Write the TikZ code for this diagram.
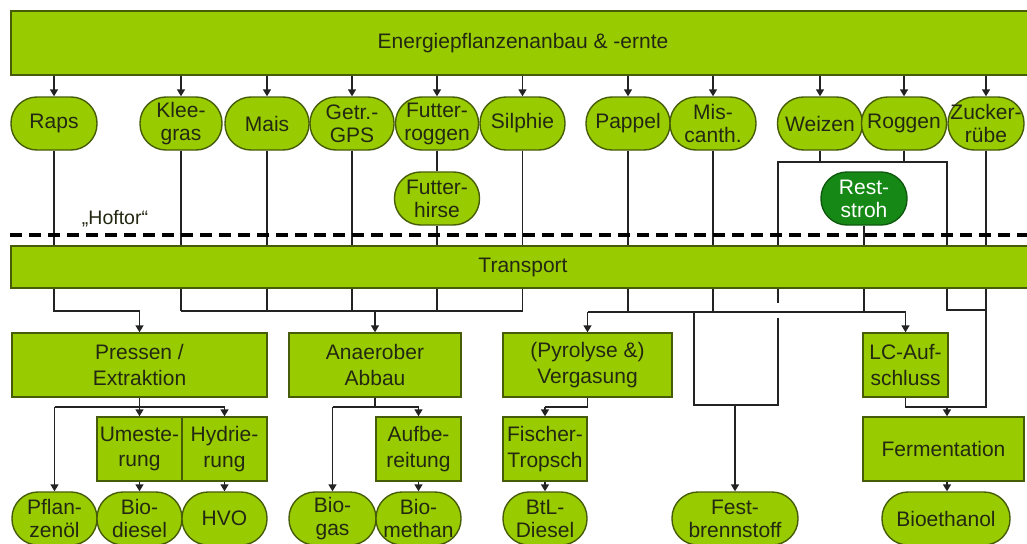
\documentclass[tikz,border=0pt]{standalone}
\usepackage{fontspec}
\setmainfont{Liberation Sans}
\usetikzlibrary{arrows.meta}
\definecolor{lgreen}{RGB}{153,204,0}
\definecolor{dgreen}{RGB}{22,136,22}
\definecolor{edgeg}{RGB}{70,92,8}
\definecolor{edged}{RGB}{15,90,15}
\definecolor{txt}{RGB}{35,40,18}
\definecolor{ln}{RGB}{35,35,35}
\tikzset{
  pill/.style={draw=edgeg, line width=1.4pt, fill=lgreen, rounded corners=26pt,
    minimum width=#1, minimum height=53pt, inner sep=0pt, align=center, text=txt,
    font=\fontsize{21}{23}\selectfont},
  darkpill/.style={pill=#1, fill=dgreen, draw=edged, text=white},
  procbox/.style 2 args={draw=edgeg, line width=1.4pt, fill=lgreen, minimum width=#1,
    minimum height=#2, inner sep=0pt, align=center, text=txt,
    font=\fontsize{21}{25.5}\selectfont},
  conn/.style={draw=ln, line width=1.5pt},
  arr/.style={conn, -{Triangle[length=7pt,width=8pt]}},
  gate/.style={draw=black, line width=3.2pt, dash pattern=on 12pt off 7pt},
  lbl/.style={text=txt, font=\fontsize{19.5}{22}\selectfont, inner sep=0pt}
}
\begin{document}
\begin{tikzpicture}[x=1pt,y=-1pt]
\useasboundingbox (0,0) rectangle (1027,543);
\fill[white] (0,0) rectangle (1027,543);

% bars
\node[procbox={1024pt}{64pt}] (top) at (523,43) {Energiepflanzenanbau \& -ernte};
\node[procbox={1024pt}{42pt}] (trans) at (523,267) {Transport};

% top row
\node[pill=86pt] (raps) at (54,123.5) {Raps};
\node[pill=82pt] (klee) at (181,123.5) {Klee-\\gras};
\node[pill=84pt] (mais) at (267,123.5) {Mais};
\node[pill=84pt] (gps) at (352,123.5) {Getr.-\\GPS};
\node[pill=83pt] (frog) at (437,123.5) {Futter-\\roggen};
\node[pill=85pt] (silphie) at (522.5,123.5) {Silphie};
\node[pill=84pt] (pappel) at (628,123.5) {Pappel};
\node[pill=86pt] (mis) at (713,123.5) {Mis-\\canth.};
\node[pill=85pt] (weizen) at (820,123.5) {Weizen};
\node[pill=85pt] (roggen) at (904,123.5) {Roggen};
\node[pill=76pt] (zucker) at (986,123.5) {Zucker-\\rübe};

% second row
\node[pill=85pt] (fhirse) at (437,198.5) {Futter-\\hirse};
\node[darkpill=86pt] (rest) at (864,198.5) {Rest-\\stroh};

% arrows from top bar
\foreach \n in {raps,klee,mais,gps,frog,silphie,pappel,mis,weizen,roggen,zucker}
  \draw[arr] (\n.north |- top.south) -- (\n.north);

% lines to transport
\foreach \n in {raps,klee,mais,gps,silphie,pappel,mis,zucker}
  \draw[conn] (\n.south) -- (\n.south |- trans.north);
\draw[conn] (frog.south) -- (fhirse.north);
\draw[conn] (fhirse.south) -- (fhirse.south |- trans.north);
\draw[conn] (rest.south) -- (rest.south |- trans.north);

\coordinate (wr1) at (778,162);
\coordinate (wr2) at (947,162);
\draw[conn] (weizen.south) -- (weizen.south |- wr1);
\draw[conn] (roggen.south) -- (roggen.south |- wr1);
\draw[conn] (wr1 |- trans.north) -- (wr1) -- (wr2) -- (wr2 |- trans.north);

% Hoftor
\node[lbl] (hoftor) at (115,219) {„Hoftor“};
\coordinate (gl) at (10,235);
\coordinate (gr) at (1027,235);
\draw[gate] (gl) -- (gr);

% process boxes
\node[procbox={255pt}{64pt}] (pressen) at (139.5,365) {Pressen /\\Extraktion};
\node[procbox={172pt}{64pt}] (anaer) at (375,365) {Anaerober\\Abbau};
\node[procbox={169pt}{64pt}] (verg) at (587.5,365) {(Pyrolyse \&)\\Vergasung};
\node[procbox={85pt}{64pt}] (lc) at (905.5,365) {LC-Auf-\\schluss};

\node[procbox={85pt}{64pt}] (umest) at (139.5,449) {Umeste-\\rung};
\node[procbox={85pt}{64pt}] (hydr) at (224.5,449) {Hydrie-\\rung};
\node[procbox={85pt}{64pt}] (aufb) at (418.5,449) {Aufbe-\\reitung};
\node[procbox={84pt}{64pt}] (ft) at (545,449) {Fischer-\\Tropsch};
\node[procbox={161pt}{64pt}] (ferm) at (943.5,449) {Fermentation};

% bottom products
\node[pill=85pt] (pfl) at (54.5,518.5) {Pflan-\\zenöl};
\node[pill=85pt] (biod) at (139.5,518.5) {Bio-\\diesel};
\node[pill=85pt] (hvo) at (224.5,518.5) {HVO};
\node[pill=87pt] (biogas) at (332.5,518.5) {Bio-\\gas};
\node[pill=85pt] (biometh) at (418.5,518.5) {Bio-\\methan};
\node[pill=84pt] (btl) at (545,518.5) {BtL-\\Diesel};
\node[pill=126pt] (fest) at (735,518.5) {Fest-\\brennstoff};
\node[pill=128pt] (bioeth) at (946,518.5) {Bioethanol};

% below transport: to Pressen
\coordinate (h1) at (0,311);
\draw[arr] (raps.south |- trans.south) -- (raps.south |- h1) -| (pressen.north);
% to Anaerober Abbau
\foreach \n in {klee,mais,gps,fhirse,silphie}
  \draw[conn] (\n.south |- trans.south) -- (\n.south |- h1);
\draw[conn] (klee.south |- h1) -- (silphie.south |- h1);
\draw[arr] (anaer.north |- h1) -- (anaer.north);

% to Vergasung / LC
\coordinate (h2) at (0,312);
\foreach \n in {pappel,mis,rest}
  \draw[conn] (\n.south |- trans.south) -- (\n.south |- h2);
\draw[conn] (verg.north |- h2) -- (lc.north |- h2);
\draw[arr] (verg.north |- h2) -- (verg.north);
\draw[arr] (lc.north |- h2) -- (lc.north);

% Festbrennstoff frame
\coordinate (fa) at (694,405);
\coordinate (fb) at (778,405);
\coordinate (gapt) at (778,303);
\coordinate (gapb) at (778,318);
\draw[conn] (wr1 |- trans.south) -- (gapt);
\draw[conn] (gapb) -- (fb) -- (fa) -- (fa |- h2);
\draw[arr] (fest.north |- fa) -- (fest.north);

% Roggen frame right side and Zuckerruebe to Fermentation
\coordinate (zr) at (0,310);
\coordinate (fj) at (947,407);
\draw[conn] (wr2 |- trans.south) -- (wr2 |- zr) -- (zucker.south |- zr);
\draw[conn] (zucker.south |- trans.south) -- (zucker.south |- fj) -- (fj);
\draw[conn] (lc.south) -- (lc.south |- fj) -- (fj);
\draw[arr] (fj) -- (fj |- ferm.north);
\draw[arr] (fj |- ferm.south) -- (fj |- bioeth.north);

% Pressen branches
\coordinate (p1) at (0,407);
\draw[conn] (pressen.south) -- (pressen.south |- p1);
\draw[conn] (pfl.north |- p1) -- (hydr.north |- p1);
\draw[arr] (pfl.north |- p1) -- (pfl.north);
\draw[arr] (umest.north |- p1) -- (umest.north);
\draw[arr] (hydr.north |- p1) -- (hydr.north);
\draw[arr] (umest.south) -- (biod.north);
\draw[arr] (hydr.south) -- (hvo.north);

% Anaerober branches
\draw[conn] (anaer.south) -- (anaer.south |- p1);
\draw[conn] (biogas.north |- p1) -- (aufb.north |- p1);
\draw[arr] (biogas.north |- p1) -- (biogas.north);
\draw[arr] (aufb.north |- p1) -- (aufb.north);
\draw[arr] (aufb.south) -- (biometh.north);

% Vergasung branch
\draw[conn] (verg.south) -- (verg.south |- p1) -- (ft.north |- p1);
\draw[arr] (ft.north |- p1) -- (ft.north);
\draw[arr] (ft.south) -- (btl.north);
\end{tikzpicture}
\end{document}
